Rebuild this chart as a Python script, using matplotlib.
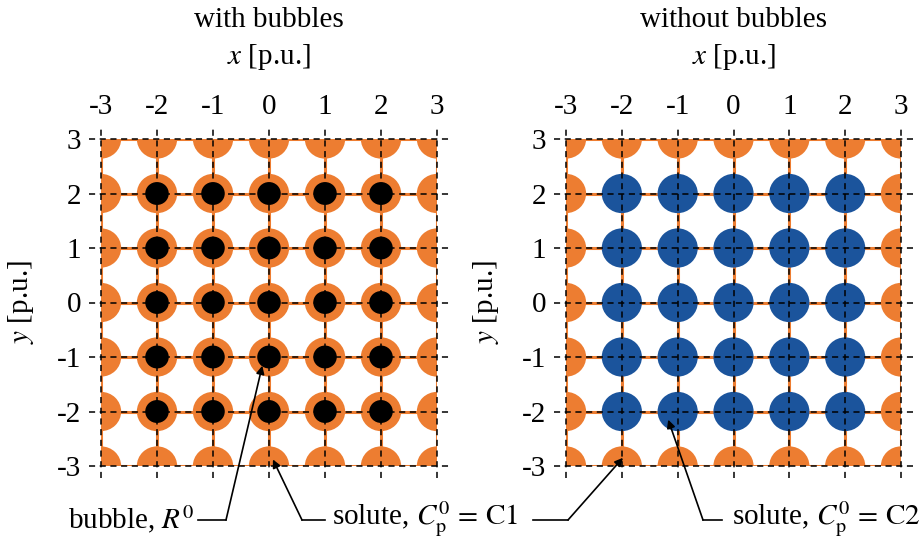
import matplotlib
matplotlib.use("Agg")
import matplotlib.pyplot as plt
from matplotlib.patches import Circle

plt.rcParams["font.family"] = ["Liberation Serif", "DejaVu Serif"]
plt.rcParams["mathtext.fontset"] = "stix"
plt.rcParams["axes.unicode_minus"] = False

# lattice of particles, p.u.
grid_pos = [-3, -2, -1, 0, 1, 2, 3]
inner_pos = [-2, -1, 0, 1, 2]
tick_labels = ["-3", "-2", "-1", "0", "1", "2", "3"]
solute_radius = 0.36
bubble_radius = 0.21

panel_titles = ["with bubbles", "without bubbles"]

ORANGE = "#ED7D31"
BLUE = "#1B549C"
FS = 21

fig = plt.figure(figsize=(9.23, 5.38), dpi=100)
ax_l = fig.add_axes([101 / 923, 72 / 538, 336 / 923, 327 / 538])
ax_r = fig.add_axes([566 / 923, 72 / 538, 335 / 923, 327 / 538])


def draw_panel(ax, title, with_bubbles):
    ax.set_xlim(-3, 3)
    ax.set_ylim(-3, 3)
    for s in ax.spines.values():
        s.set_visible(False)

    # orange lines under everything
    for p in grid_pos:
        ax.plot([-3, 3], [p, p], color=ORANGE, lw=2.2, zorder=1)
        ax.plot([p, p], [-3, 3], color=ORANGE, lw=2.2, zorder=1)

    for x in grid_pos:
        for y in grid_pos:
            inner = x in inner_pos and y in inner_pos
            if inner and not with_bubbles:
                ax.add_patch(Circle((x, y), solute_radius, color=BLUE, lw=0, zorder=2))
            else:
                ax.add_patch(Circle((x, y), solute_radius, color=ORANGE, lw=0, zorder=2))
            if inner and with_bubbles:
                ax.add_patch(Circle((x, y), bubble_radius, color="black", lw=0, zorder=3))

    # dashed lattice lines, running a bit past the box
    for p in grid_pos:
        ax.plot([-3.22, 3.22], [p, p], color="black", lw=1.1, ls=(0, (4, 3)),
                zorder=4, clip_on=False)
        ax.plot([p, p], [-3.22, 3.22], color="black", lw=1.1, ls=(0, (4, 3)),
                zorder=4, clip_on=False)

    ax.set_xticks(grid_pos)
    ax.set_yticks(grid_pos)
    ax.set_xticklabels(tick_labels)
    ax.set_yticklabels(tick_labels)
    ax.xaxis.tick_top()
    ax.tick_params(length=0, labelsize=FS, pad=14)
    ax.set_ylabel("$y$ [p.u.]", fontsize=FS, labelpad=15)

    # heading and x label above the tick labels
    cx = (ax.get_position().x0 + ax.get_position().x1) / 2
    fig.text(cx, 1 - 20 / 538, title, fontsize=FS, ha="center", va="center")
    fig.text(cx, 1 - 57 / 538, "$x$ [p.u.]", fontsize=FS, ha="center", va="center")


draw_panel(ax_l, panel_titles[0], True)
draw_panel(ax_r, panel_titles[1], False)

arrow = dict(arrowstyle="-|>", color="black", lw=1.2, mutation_scale=12,
             shrinkA=0, shrinkB=0)


def fig_xy(px, py):
    return px / 923, 1 - py / 538


def leader(x0, x1, y):
    fig.add_artist(plt.Line2D([x0 / 923, x1 / 923], [1 - y / 538, 1 - y / 538],
                              color="black", lw=1.2))


# bubble, left panel
fig.text(*fig_xy(68, 519), "bubble, $R^0$", fontsize=FS, va="center", ha="left")
leader(198, 226, 520)
ax_l.annotate("", xy=(-0.12, -1.16), xycoords="data",
              xytext=fig_xy(226, 520), textcoords="figure fraction",
              arrowprops=arrow)

# solute C1, both panels
fig.text(*fig_xy(332, 519), r"solute, $C_{\mathrm{p}}^{0}\,=\,\mathrm{C1}$",
         fontsize=FS, va="center", ha="left")
leader(302, 325, 520)
ax_l.annotate("", xy=(0.07, -2.88), xycoords="data",
              xytext=fig_xy(302, 520), textcoords="figure fraction",
              arrowprops=arrow)
leader(533, 568, 520)
ax_r.annotate("", xy=(-1.98, -2.85), xycoords="data",
              xytext=fig_xy(568, 520), textcoords="figure fraction",
              arrowprops=arrow)

# solute C2, right panel
fig.text(*fig_xy(732, 519), r"solute, $C_{\mathrm{p}}^{0}\,=\,\mathrm{C2}$",
         fontsize=FS, va="center", ha="left")
leader(703, 722, 520)
ax_r.annotate("", xy=(-1.17, -2.15), xycoords="data",
              xytext=fig_xy(703, 520), textcoords="figure fraction",
              arrowprops=arrow)

fig.savefig("out.png", dpi=100)
